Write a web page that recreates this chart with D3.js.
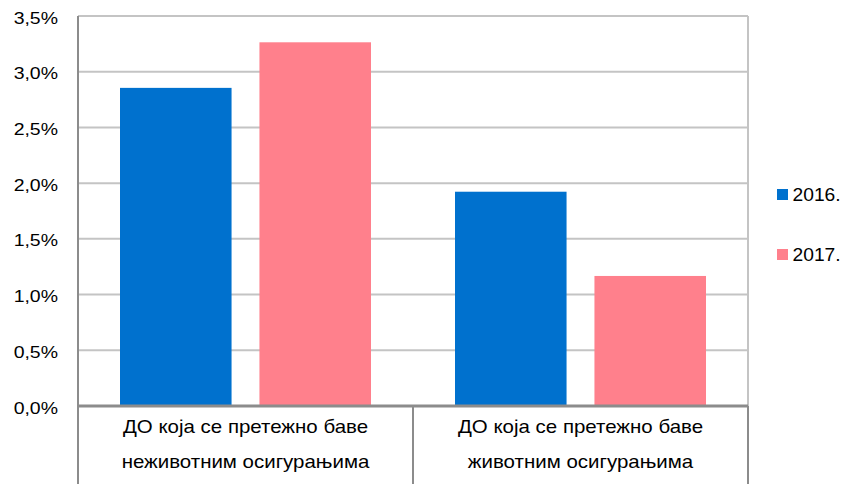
<!DOCTYPE html>
<html>
<head>
<meta charset="utf-8">
<script src="https://cdn.jsdelivr.net/npm/d3@7"></script>
<style>
  body { margin: 0; background: #fff; }
  svg { font-family: "Liberation Sans", Arial, sans-serif; }
</style>
</head>
<body>
<div id="chart"></div>
<script>
const categories = [
  ['ДО која се претежно баве', 'неживотним осигурањима'],
  ['ДО која се претежно баве', 'животним осигурањима']
];
const seriesNames = ['2016.', '2017.'];
const values2016 = [0.02855, 0.01923];
const values2017 = [0.03264, 0.01167];
const yTicks = [0, 0.005, 0.01, 0.015, 0.02, 0.025, 0.03, 0.035];

const colors = ['#0071ce', '#ff808c'];
const W = 844, H = 484;
const margin = { top: 16, right: 96, bottom: 78, left: 78 };
const width = W - margin.left - margin.right;
const height = H - margin.top - margin.bottom;

const svg = d3.select('#chart').append('svg')
  .attr('width', W).attr('height', H);
const g = svg.append('g')
  .attr('transform', `translate(${margin.left},${margin.top})`);

const x0 = d3.scaleBand().domain(d3.range(categories.length)).range([0, width]);
const x1 = d3.scaleBand().domain(seriesNames).range([42, x0.bandwidth() - 42]).paddingInner(0.2);
const y = d3.scaleLinear().domain([0, 0.035]).range([height, 0]);

const fmt = v => d3.format('.1%')(v).replace('.', ',');

// the reference text is a little wider than it is tall, so stretch it
function label(parent, x, yy, txt, size, stretch, anchor) {
  return parent.append('text')
    .attr('transform', `translate(${x},${yy}) scale(${stretch},1)`)
    .attr('text-anchor', anchor || 'start')
    .attr('font-size', size).attr('fill', '#000')
    .text(txt);
}

// gridlines
g.selectAll('.grid').data(yTicks.filter(t => t > 0)).enter().append('line')
  .attr('x1', 0).attr('x2', width)
  .attr('y1', d => y(d)).attr('y2', d => y(d))
  .attr('stroke', '#c4c4c4').attr('stroke-width', 2);

// right border
g.append('line').attr('x1', width).attr('x2', width).attr('y1', 0).attr('y2', height)
  .attr('stroke', '#c4c4c4').attr('stroke-width', 2);

// y axis labels
yTicks.forEach(t => label(g, -20, y(t) + 7.5, fmt(t), 16.5, 1.18, 'end'));

// bars
const data = categories.map((c, i) => [values2016[i], values2017[i]]);
const groups = g.selectAll('.cat').data(data).enter().append('g')
  .attr('transform', (d, i) => `translate(${x0(i)},0)`);
groups.selectAll('rect').data(d => d.map((v, j) => ({ v, s: seriesNames[j], j }))).enter().append('rect')
  .attr('x', d => x1(d.s)).attr('width', x1.bandwidth())
  .attr('y', d => y(d.v)).attr('height', d => height - y(d.v))
  .attr('fill', d => colors[d.j]);

// y axis line
g.append('line').attr('x1', 0).attr('x2', 0).attr('y1', 0).attr('y2', height)
  .attr('stroke', '#8c8c8c').attr('stroke-width', 2);

// baseline
g.append('line').attr('x1', 0).attr('x2', width).attr('y1', height).attr('y2', height)
  .attr('stroke', '#8c8c8c').attr('stroke-width', 3);

// category separators
const seps = d3.range(categories.length + 1).map(i => i * x0.bandwidth());
g.selectAll('.sep').data(seps).enter().append('line')
  .attr('x1', d => d).attr('x2', d => d)
  .attr('y1', height).attr('y2', H - margin.top)
  .attr('stroke', '#8c8c8c').attr('stroke-width', 2);

// category labels
categories.forEach((lines, i) => {
  lines.forEach((t, k) => {
    label(g, x0(i) + x0.bandwidth() / 2, height + 27 + k * 35, t, 17.5, 1.17, 'middle');
  });
});

// legend
const legend = svg.append('g').attr('transform', 'translate(777,189)');
seriesNames.forEach((s, i) => {
  const lg = legend.append('g').attr('transform', `translate(0,${i * 60})`);
  lg.append('rect').attr('width', 11).attr('height', 11).attr('fill', colors[i]);
  label(lg, 15.5, 12, s, 18.5, 1.04);
});
</script>
</body>
</html>
